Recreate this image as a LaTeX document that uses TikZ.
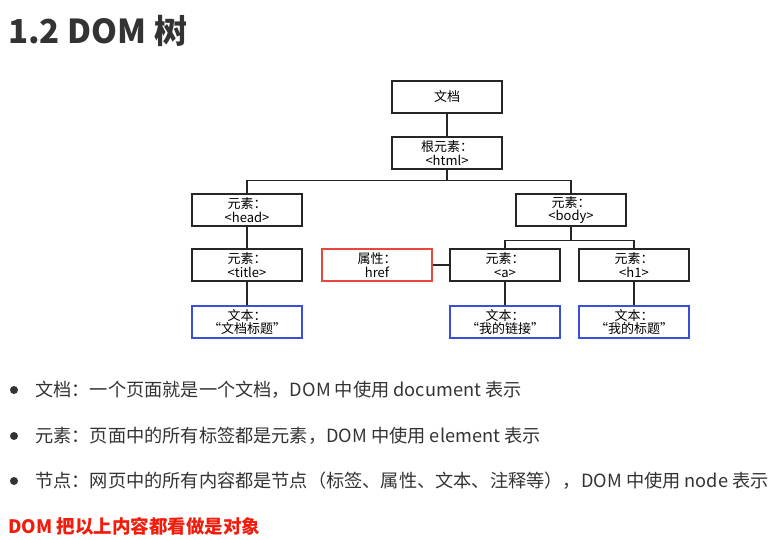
\documentclass[tikz,border=0pt]{standalone}
\usepackage{fontspec}
\setmainfont{Noto Sans CJK SC}
\usetikzlibrary{calc}
\definecolor{dom gray}{HTML}{333333}
\definecolor{dom line}{HTML}{262626}
\definecolor{dom red}{HTML}{E6483D}
\definecolor{dom blue}{HTML}{3A4DDB}
\definecolor{note red}{HTML}{F21C0C}

\tikzset{
  dom box/.style = {draw = dom line, line width = 1.4pt, minimum width = 110pt,
    minimum height = 32pt, inner sep = 0pt, align = center,
    font = \fontsize{13}{13.5}\selectfont},
  attr box/.style = {dom box, draw = dom red},
  text box/.style = {dom box, draw = dom blue},
  link/.style = {dom line, line width = 1.3pt},
  bullet/.style = {circle, fill = dom gray, inner sep = 0pt, minimum size = 8pt},
  item/.style = {anchor = west, inner sep = 0pt, text = dom gray,
    font = \fontsize{18.2}{20}\selectfont}
}

\begin{document}
\begin{tikzpicture}[x = 1pt, y = -1pt]
      \useasboundingbox (0, 0) rectangle (774, 540);

      \node[anchor = west, inner sep = 0pt, text = dom gray,
        font = \fontsize{33}{36}\selectfont\bfseries] (heading) at (8, 31) {1.2 DOM 树};

      % tree
      \node[dom box] (doc) at (447, 97) {文档};
      \node[dom box] (html) at (447, 153) {根元素：\\<html>};
      \node[dom box] (head) at (247, 210) {元素：\\<head>};
      \node[dom box] (body) at (571, 210) {元素：\\<body>};
      \node[dom box] (title) at (247, 265) {元素：\\<title>};
      \node[attr box] (href) at (377, 265) {属性：\\href};
      \node[dom box] (a) at (505, 265) {元素：\\<a>};
      \node[dom box] (h1) at (634, 265) {元素：\\<h1>};
      \node[text box] (titletext) at (247, 322) {文本：\\“文档标题”};
      \node[text box] (atext) at (505, 322) {文本：\\“我的链接”};
      \node[text box] (h1text) at (634, 322) {文本：\\“我的标题”};

      \draw[link] (doc) -- (html);
      \draw[link] (html.south) -- ++(0, 11) coordinate (html fork);
      \draw[link] (html fork) -| (head.north);
      \draw[link] (html fork) -| (body.north);
      \draw[link] (head) -- (title);
      \draw[link] (title) -- (titletext);
      \draw[link] (body.south) -- ++(0, 14) coordinate (body fork);
      \draw[link] (body fork) -| (a.north);
      \draw[link] (body fork) -| (h1.north);
      \draw[link] (href) -- (a);
      \draw[link] (a) -- (atext);
      \draw[link] (h1) -- (h1text);

      % notes
      \foreach \y/\name in {390/one, 436/two, 481/three} {
        \node[bullet] (bullet \name) at (14, \y) {};
      }
      \node[item] (note one) at (35, 390) {文档：一个页面就是一个文档，DOM 中使用 document 表示};
      \node[item] (note two) at (35, 436) {元素：页面中的所有标签都是元素，DOM 中使用 element 表示};
      \node[item] (note three) at (35, 481) {节点：网页中的所有内容都是节点（标签、属性、文本、注释等），DOM 中使用 node 表示};
      \node[item, text = note red, font = \fontsize{18.5}{20}\selectfont\bfseries] (summary)
        at (8, 526) {DOM 把以上内容都看做是对象};
    \end{tikzpicture}
\end{document}
